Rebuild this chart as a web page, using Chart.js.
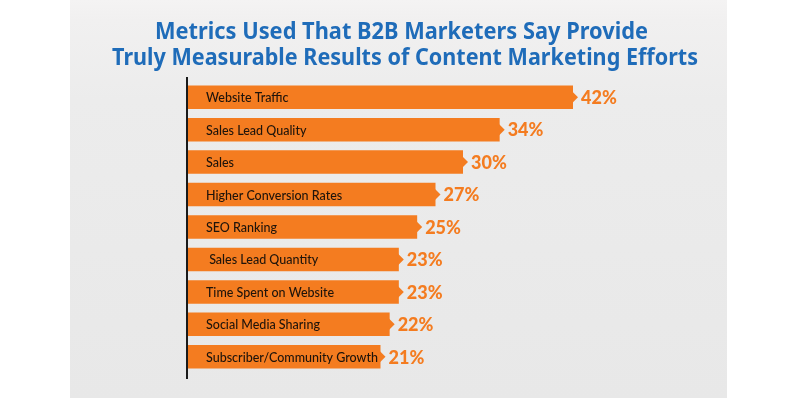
<!DOCTYPE html>
<html>
<head>
<meta charset="utf-8">
<script src="https://cdn.jsdelivr.net/npm/chart.js@4"></script>
<style>
  html, body { margin: 0; padding: 0; background: #fff; }
  #wrap { position: relative; width: 800px; height: 398px; overflow: hidden; }
  #panel { position: absolute; left: 70px; top: 0; width: 657px; height: 398px;
           background: linear-gradient(#f4f3f3 0px, #f1f0f0 20px, #ececec 100px, #e8e8e8 398px); }
  canvas { position: absolute; left: 0; top: 0; }
</style>
</head>
<body>
<div id="wrap">
  <div id="panel"></div>
  <canvas id="chart" width="800" height="398"></canvas>
</div>
<script>
const titleLines = [
    'Metrics Used That B2B Marketers Say Provide',
    'Truly Measurable Results of Content Marketing Efforts'
];
const categories = [
    'Website Traffic',
    'Sales Lead Quality',
    'Sales',
    'Higher Conversion Rates',
    'SEO Ranking',
    ' Sales Lead Quantity',
    'Time Spent on Website',
    'Social Media Sharing',
    'Subscriber/Community Growth'
];
const percentValues = [42, 34, 30, 27, 25, 23, 23, 22, 21];

const orange = '#f47c20';

// title in a condensed look: maxWidth squeezes the text
const titleDraw = {
    id: 'titleDraw',
    afterDraw(chart) {
        const ctx = chart.ctx;
        ctx.save();
        ctx.fillStyle = '#1f6cb9';
        ctx.font = 'bold 23px "Noto Sans", sans-serif';
        ctx.textAlign = 'center';
        ctx.textBaseline = 'alphabetic';
        ctx.fillText(titleLines[0], 401.5, 39, 493);
        ctx.fillText(titleLines[1], 405, 65, 586);
        ctx.restore();
    }
};

// draws the axis line, arrow tips, names inside bars and the % labels
const barDecor = {
    id: 'barDecor',
    afterDatasetsDraw(chart) {
        const ctx = chart.ctx;
        const area = chart.chartArea;
        const bars = chart.getDatasetMeta(0).data;

        ctx.save();
        ctx.strokeStyle = '#1a1a1a';
        ctx.lineWidth = 2;
        ctx.beginPath();
        ctx.moveTo(area.left - 1, area.top - 4);
        ctx.lineTo(area.left - 1, area.bottom + 6);
        ctx.stroke();

        bars.forEach((bar, i) => {
            // arrow tip at the end of each bar
            ctx.fillStyle = orange;
            ctx.beginPath();
            ctx.moveTo(bar.x - 1, bar.y - 6);
            ctx.lineTo(bar.x + 5, bar.y);
            ctx.lineTo(bar.x - 1, bar.y + 6);
            ctx.closePath();
            ctx.fill();

            // name inside the bar
            ctx.fillStyle = '#1e140b';
            ctx.font = '500 12.5px Lato, sans-serif';
            ctx.textAlign = 'left';
            ctx.textBaseline = 'middle';
            ctx.fillText(categories[i], bar.base + 18, bar.y + 1);

            // value after the bar
            ctx.fillStyle = orange;
            ctx.font = '900 18px Lato, sans-serif';
            ctx.fillText(percentValues[i] + '%', bar.x + 8, bar.y + 1);
        });
        ctx.restore();
    }
};

const ctx = document.getElementById('chart').getContext('2d');
new Chart(ctx, {
    type: 'bar',
    data: {
        labels: categories,
        datasets: [{
            data: percentValues,
            backgroundColor: orange,
            borderWidth: 0,
            barPercentage: 0.725,
            categoryPercentage: 1
        }]
    },
    options: {
        indexAxis: 'y',
        responsive: false,
        animation: false,
        layout: {
            padding: { left: 188, right: 73, top: 81, bottom: 25 }
        },
        scales: {
            x: { display: false, min: 0, max: 58.8 },
            y: { display: false }
        },
        plugins: {
            legend: { display: false },
            tooltip: { enabled: false }
        }
    },
    plugins: [barDecor, titleDraw]
});
</script>
</body>
</html>
